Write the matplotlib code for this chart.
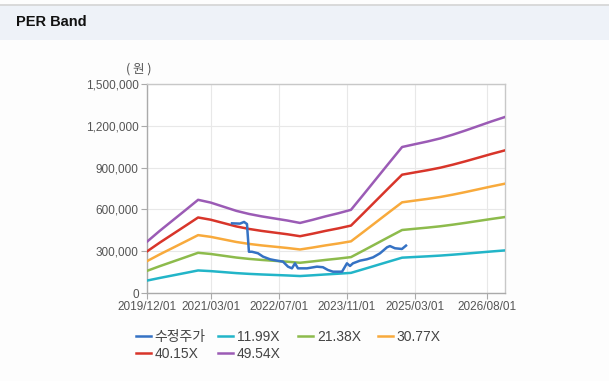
import numpy as np
import pandas as pd
import matplotlib
matplotlib.use("Agg")
import matplotlib.pyplot as plt
import matplotlib.dates as mdates
from matplotlib.lines import Line2D
from matplotlib.ticker import FuncFormatter

plt.rcParams['font.family'] = ['Liberation Sans', 'Noto Sans CJK KR', 'DejaVu Sans']

# EPS basis (won), quarterly
eps_dates = pd.to_datetime([
    "2019-12-01", "2020-03-01", "2020-06-01", "2020-09-01", "2020-12-01",
    "2021-03-01", "2021-06-01", "2021-09-01", "2021-12-01",
    "2022-03-01", "2022-06-01", "2022-09-01", "2022-12-01",
    "2023-03-01", "2023-06-01", "2023-09-01", "2023-12-01",
    "2024-03-01", "2024-06-01", "2024-09-01", "2024-12-01",
    "2025-03-01", "2025-06-01", "2025-09-01", "2025-12-01",
    "2026-03-01", "2026-06-01", "2026-09-01", "2026-12-08"])
eps = np.array([
    7430, 9000, 10500, 12000, 13500,
    13100, 12500, 11900, 11450,
    11100, 10800, 10500, 10150,
    10600, 11100, 11550, 12050,
    14300, 16600, 18900, 21150,
    21550, 21950, 22400, 22950,
    23550, 24200, 24850, 25500])

multiples = [11.99, 21.38, 30.77, 40.15, 49.54]
band_labels = ["11.99X", "21.38X", "30.77X", "40.15X", "49.54X"]
band_colors = ["#22b5c8", "#8dbb4c", "#f8aa3c", "#d8352a", "#9b5bb5"]

# adjusted share price (수정주가)
price_dates = pd.to_datetime([
    "2021-08-01", "2021-09-27", "2021-10-26", "2021-11-16", "2021-11-30",
    "2021-12-22", "2022-02-03", "2022-03-11", "2022-04-30", "2022-06-19",
    "2022-08-01", "2022-09-06", "2022-10-04", "2022-10-26", "2022-11-16",
    "2023-01-20", "2023-04-01", "2023-05-14", "2023-06-19", "2023-07-25",
    "2023-09-28", "2023-11-02", "2023-11-24", "2023-12-15", "2024-02-03",
    "2024-03-24", "2024-05-07", "2024-06-26", "2024-08-15", "2024-09-05",
    "2024-10-11", "2024-11-30", "2024-12-29"])
price = np.array([
    500000, 498000, 510000, 495000, 296000,
    296000, 285000, 261000, 242000, 232000,
    225000, 189000, 177000, 213000, 177000,
    177000, 189000, 185000, 165000, 153000,
    153000, 213000, 194000, 213000, 232000,
    242000, 256000, 285000, 328000, 337000,
    321000, 316000, 340000])

x_ticks = pd.to_datetime(["2019-12-01", "2021-03-01", "2022-07-01",
                          "2023-11-01", "2025-03-01", "2026-08-01"])
y_ticks = [0, 300000, 600000, 900000, 1200000, 1500000]

fig = plt.figure(figsize=(6.09, 3.81), dpi=100)
fig.patch.set_facecolor("#fdfdfd")

# header strip
fig.patches.append(plt.Rectangle((0, 1 - 40 / 381), 1, 35 / 381, transform=fig.transFigure,
                                 facecolor="#eef2f8", edgecolor="none", zorder=0))
fig.add_artist(Line2D([0, 1], [1 - 4.5 / 381] * 2, color="#d4d4d4", lw=1.2))
fig.text(16 / 609, 1 - 22 / 381, "PER Band", fontsize=10.5, fontweight="bold",
         family="Liberation Sans", va="center", ha="left", color="#111111")

ax = fig.add_axes([147 / 609, 1 - 293 / 381, 358 / 609, 209 / 381])
ax.set_facecolor("white")

price_line, = ax.plot(price_dates, price, color="#3572c4", lw=1.8, zorder=5, label="수정주가")
handles = [price_line]
for m, lab, c in zip(multiples, band_labels, band_colors):
    h, = ax.plot(eps_dates, eps * m, color=c, lw=1.8, zorder=3, label=lab)
    handles.append(h)

ax.set_xlim(pd.Timestamp("2019-12-01"), pd.Timestamp("2026-12-08"))
ax.set_ylim(0, 1500000)
ax.set_xticks(x_ticks)
ax.xaxis.set_major_formatter(mdates.DateFormatter("%Y/%m/%d"))
ax.set_yticks(y_ticks)
ax.yaxis.set_major_formatter(FuncFormatter(lambda v, p: f"{int(v):,}"))
ax.tick_params(axis="both", labelsize=8.5, colors="#555555", length=4, width=0.8,
               color="#aaaaaa", pad=2)
ax.grid(True, color="#e8e8e8", lw=0.8)
ax.set_axisbelow(True)
for s in ax.spines.values():
    s.set_color("#c8c8c8")
    s.set_linewidth(1)
ax.spines["left"].set_color("#aaaaaa")
ax.spines["bottom"].set_color("#aaaaaa")

fig.text(139 / 609, 1 - 69 / 381, "( 원 )", fontsize=9, color="#555555",
         family=["Noto Sans CJK KR", "DejaVu Sans"], ha="center", va="center")

# legend items laid out on a fixed grid
slots = [(136, 337), (218, 337), (298, 337), (378, 337), (136, 354), (218, 354)]
for h, (px, py) in zip(handles, slots):
    leg = fig.legend(handles=[h], loc="center left",
                     bbox_to_anchor=(px / 609, 1 - py / 381), frameon=False,
                     handlelength=1.1, handletextpad=0.25,
                     borderpad=0, borderaxespad=0,
                     prop={"family": ["Liberation Sans", "Noto Sans CJK KR"], "size": 10})
    for t in leg.get_texts():
        t.set_color("#444444")

fig.savefig("out.png", dpi=100, facecolor=fig.get_facecolor())
